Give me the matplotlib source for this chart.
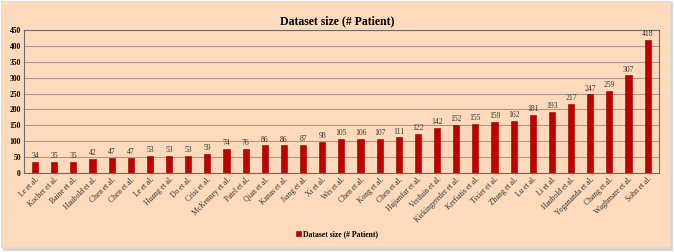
import numpy as np
import matplotlib
matplotlib.use("Agg")
import matplotlib.pyplot as plt
from matplotlib.patches import Rectangle

authors = ["Le et al.", "Kocher et al.", "Baine et al.", "Haubold et al.", "Chen et al.",
           "Chen et al.", "Le et al.", "Huang et al.", "Do et al.", "Crisi et al.",
           "McKenney et al.", "Patel et al.", "Qian et al.", "Kanas et al.", "Jiang et al.",
           "Xi et al.", "Wei et al.", "Chen et al.", "Kong et al.", "Chen et al.",
           "Hajianfar et al.", "Verduin et al.", "Kickingereder et al.", "Kerfiatis et al.",
           "Tixier et al.", "Zhang et al.", "Lu et al.", "Li et al.", "Haubold et al.",
           "Yogananda et al.", "Chang et al.", "Waghmare et al.", "Sohn et al."]
patients = [34, 35, 35, 42, 47, 47, 53, 53, 53, 59, 74, 76, 86, 86, 87, 98, 105, 106,
            107, 111, 122, 142, 152, 155, 159, 162, 181, 193, 217, 247, 259, 307, 418]
yticks = [0, 50, 100, 150, 200, 250, 300, 350, 400, 450]

bg = "#FDDABB"
serif = ["Liberation Serif", "DejaVu Serif"]
plt.rcParams["font.family"] = serif

fig = plt.figure(figsize=(6.74, 2.52), dpi=100)
fig.patch.set_facecolor("white")
# outer frame with a soft shadow
fig.patches.append(Rectangle((0.004, 0.004), 0.994, 0.99, transform=fig.transFigure,
                             facecolor="#D6D6D6", edgecolor="none", zorder=-2))
fig.patches.append(Rectangle((0.0015, 0.018), 0.993, 0.977, transform=fig.transFigure,
                             facecolor=bg, edgecolor="#DADADA", lw=0.6, zorder=-1))

ax = fig.add_axes([0.035, 0.315, 0.943, 0.565])
ax.set_zorder(2)
ax.set_facecolor(bg)
x = np.arange(len(patients))
bars = ax.bar(x, patients, width=0.32, color="#C00000", edgecolor="#8B0000", lw=0.4,
              label="Dataset size (# Patient)", zorder=3)
for xi, v in zip(x, patients):
    ax.text(xi, v + 6, str(v), ha="center", va="bottom", fontsize=5.5, color="#333333")

ax.set_xlim(-0.6, len(patients) - 0.4)
ax.set_ylim(0, 450)
ax.set_yticks(yticks)
ax.set_yticklabels([str(t) for t in yticks], fontsize=5.5, fontweight="bold")
ax.set_xticks(x)
ax.set_xticklabels(authors, rotation=45, ha="right", rotation_mode="anchor", fontsize=5.5,
                   color="#333333")
ax.tick_params(axis="both", length=0, pad=2)
ax.yaxis.grid(True, color="#A8998A", lw=0.8, zorder=0)
for s in ax.spines.values():
    s.set_color("#6B6B6B")
    s.set_linewidth(0.8)

fig.suptitle("Dataset size (# Patient)", y=0.94, fontsize=8.5, fontweight="bold",
             family=serif)
leg = fig.legend(handles=[bars], labels=["Dataset size (# Patient)"], loc="center",
                 bbox_to_anchor=(0.5, 0.07), frameon=False,
                 handlelength=0.6, handleheight=0.6, handletextpad=0.2,
                 prop={"weight": "bold", "size": 5.5, "family": serif})

fig.savefig("out.png", dpi=100, facecolor=fig.get_facecolor())
